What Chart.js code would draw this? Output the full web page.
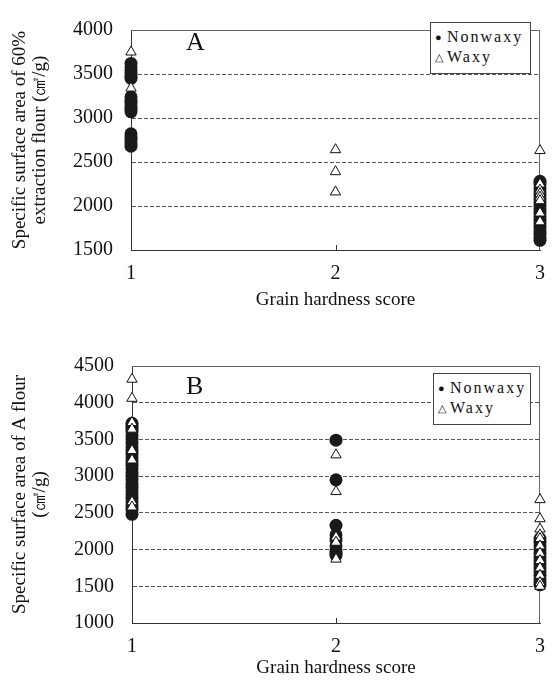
<!DOCTYPE html>
<html><head><meta charset="utf-8">
<script src="https://cdn.jsdelivr.net/npm/chart.js@4/dist/chart.umd.min.js"></script>
<style>
html,body{margin:0;padding:0;background:#fff;}
#wrap{position:relative;width:557px;height:681px;overflow:hidden;font-family:"Liberation Serif",serif;}
canvas{position:absolute;left:0;}
.leg{position:absolute;border:1px solid #444;background:#fff;font-size:16px;letter-spacing:2px;color:#111;line-height:19px;padding:4px 0 4px 4px;box-sizing:border-box;}
.leg span.m{display:inline-block;width:12px;letter-spacing:0;font-size:11px;vertical-align:1px;}
.plab{position:absolute;font-size:26px;color:#111;}
</style></head>
<body><div id="wrap">
<canvas id="ca" width="557" height="330" style="top:0"></canvas>
<canvas id="cb" width="557" height="351" style="top:330px"></canvas>
<div class="leg" style="left:430px;top:22px;width:101px;height:52px;"><div><span class="m">●</span>Nonwaxy</div><div><span class="m">△</span>Waxy</div></div>
<div class="leg" style="left:433px;top:373px;width:98px;height:52px;"><div><span class="m">●</span>Nonwaxy</div><div><span class="m">△</span>Waxy</div></div>
<div class="plab" style="left:186px;top:27px;">A</div>
<div class="plab" style="left:186px;top:371px;">B</div>
</div>
<script>
// ---- Data ----
const xTickLabels = ['1', '2', '3'];
const seriesNames = ['Nonwaxy', 'Waxy'];

// Panel A: specific surface area of 60% extraction flour (cm2/g)
const A_nonwaxy_h1 = [3620, 3580, 3540, 3500, 3470, 3450, 3240, 3200, 3170, 3130, 3100, 3070, 2820, 2780, 2750, 2720, 2680];
const A_nonwaxy_h3 = [2280, 2250, 2200, 2160, 2120, 2080, 2040, 2000, 1960, 1920, 1880, 1840, 1800, 1760, 1720, 1680, 1640, 1610];
const A_waxy_h1 = [3750, 3340];
const A_waxy_h2 = [2640, 2390, 2160];
const A_waxy_h3 = [2630, 2250, 2180, 2140, 2100, 2060, 1920, 1820];

// Panel B: specific surface area of A flour (cm2/g)
const B_nonwaxy_h1 = [3720, 3680, 3640, 3600, 3550, 3500, 3450, 3400, 3350, 3300, 3250, 3200, 3150, 3100, 3050, 3000, 2950, 2900, 2850, 2800, 2750, 2700, 2650, 2600, 2550, 2480];
const B_nonwaxy_h2 = [3490, 2950, 2330, 2200, 2130, 2050, 1980, 1950, 1920];
const B_nonwaxy_h3 = [2150, 2100, 2050, 2000, 1950, 1900, 1850, 1800, 1750, 1700, 1650, 1600, 1550, 1520];
const B_waxy_h1 = [4320, 4060, 3730, 3640, 3350, 3220, 2650, 2580];
const B_waxy_h2 = [3290, 2790, 2170, 2100, 1870];
const B_waxy_h3 = [2680, 2420, 2280, 2200, 2150, 2050, 1950, 1850, 1750, 1650, 1550, 1500];

const A_yTitle = ['Specific surface area of 60%', 'extraction flour (㎠/g)'];
const B_yTitle = ['Specific surface area of A flour', '(㎠/g)'];
const xTitle = 'Grain hardness score';

// ---- helpers ----
function pts(h, arr) { return arr.map(v => ({x: h, y: v})); }

const FONT = '"Liberation Serif", serif';

const framePlugin = {
  id: 'frame',
  beforeDatasetsDraw(chart) {
    const {ctx, chartArea: a, scales} = chart;
    ctx.save();
    ctx.strokeStyle = '#666';
    ctx.lineWidth = 1;
    ctx.beginPath();
    ctx.moveTo(a.left, a.top + 0.5);
    ctx.lineTo(a.right - 0.5, a.top + 0.5);
    ctx.lineTo(a.right - 0.5, a.bottom);
    ctx.stroke();
    // inward tick at x = 2
    const px = Math.round(scales.x.getPixelForValue(2)) + 0.5;
    ctx.strokeStyle = '#333';
    ctx.beginPath();
    ctx.moveTo(px, a.bottom);
    ctx.lineTo(px, a.bottom - 5);
    ctx.stroke();
    ctx.restore();
  }
};

function makeChart(id, cfg) {
  const datasets = [
    {
      label: seriesNames[1],
      data: cfg.waxy,
      pointStyle: 'triangle',
      pointRadius: 6,
      pointBackgroundColor: '#fff',
      pointBorderColor: '#111',
      pointBorderWidth: 1,
      showLine: false,
      clip: false,
      order: 0
    },
    {
      label: seriesNames[0],
      data: cfg.nonwaxy,
      pointStyle: 'circle',
      pointRadius: 6.5,
      pointBackgroundColor: '#1a1a1a',
      pointBorderColor: '#1a1a1a',
      pointBorderWidth: 0,
      showLine: false,
      clip: false,
      order: 1
    }
  ];
  return new Chart(document.getElementById(id), {
    type: 'scatter',
    data: { datasets },
    options: {
      responsive: false,
      animation: false,
      events: [],
      layout: { padding: { top: cfg.padTop, right: cfg.padRight, left: 0, bottom: 0 } },
      plugins: { legend: { display: false }, tooltip: { enabled: false } },
      scales: {
        x: {
          type: 'linear',
          min: 1, max: 3,
          afterFit(s) { s.height = cfg.xHeight; },
          ticks: {
            stepSize: 1,
            padding: cfg.xTickPad,
            color: '#111',
            font: { family: FONT, size: 20 },
            callback: (v) => xTickLabels[v - 1] ?? '',
            maxRotation: 0
          },
          grid: { display: false, drawTicks: false },
          border: { display: true, color: '#333', width: 1 },
          title: {
            display: true,
            text: xTitle,
            color: '#111',
            font: { family: FONT, size: 19, lineHeight: 1.0 },
            padding: { top: 0, bottom: cfg.xTitlePadBottom }
          }
        },
        y: {
          type: 'linear',
          min: cfg.ymin, max: cfg.ymax,
          afterFit(s) { s.width = cfg.yWidth; },
          ticks: {
            stepSize: 500,
            padding: 18,
            color: '#111',
            font: { family: FONT, size: 20 },
            callback: (v) => String(v)
          },
          grid: {
            drawTicks: false,
            color: (c) => (c.tick && (c.tick.value === cfg.ymin || c.tick.value === cfg.ymax)) ? 'rgba(0,0,0,0)' : '#555',
            lineWidth: 1
          },
          border: { display: true, color: '#333', width: 1, dash: [4, 2] },
          title: {
            display: true,
            text: cfg.yTitle,
            color: '#111',
            font: { family: FONT, size: 19, lineHeight: 1.05 },
            padding: { top: 10, bottom: 0 }
          }
        }
      }
    },
    plugins: [framePlugin]
  });
}

makeChart('ca', {
  nonwaxy: [...pts(1, A_nonwaxy_h1), ...pts(3, A_nonwaxy_h3)],
  waxy: [...pts(1, A_waxy_h1), ...pts(2, A_waxy_h2), ...pts(3, A_waxy_h3)],
  ymin: 1500, ymax: 4000,
  yTitle: A_yTitle,
  padTop: 18, padRight: 11,
  xHeight: 80, yWidth: 131,
  xTickPad: 12, xTitlePadBottom: 20
});

makeChart('cb', {
  nonwaxy: [...pts(1, B_nonwaxy_h1), ...pts(2, B_nonwaxy_h2), ...pts(3, B_nonwaxy_h3)],
  waxy: [...pts(1, B_waxy_h1), ...pts(2, B_waxy_h2), ...pts(3, B_waxy_h3)],
  ymin: 1000, ymax: 4500,
  yTitle: B_yTitle,
  padTop: 36, padRight: 5,
  xHeight: 58, yWidth: 132,
  xTickPad: 12, xTitlePadBottom: 3
});
</script>
</body></html>
